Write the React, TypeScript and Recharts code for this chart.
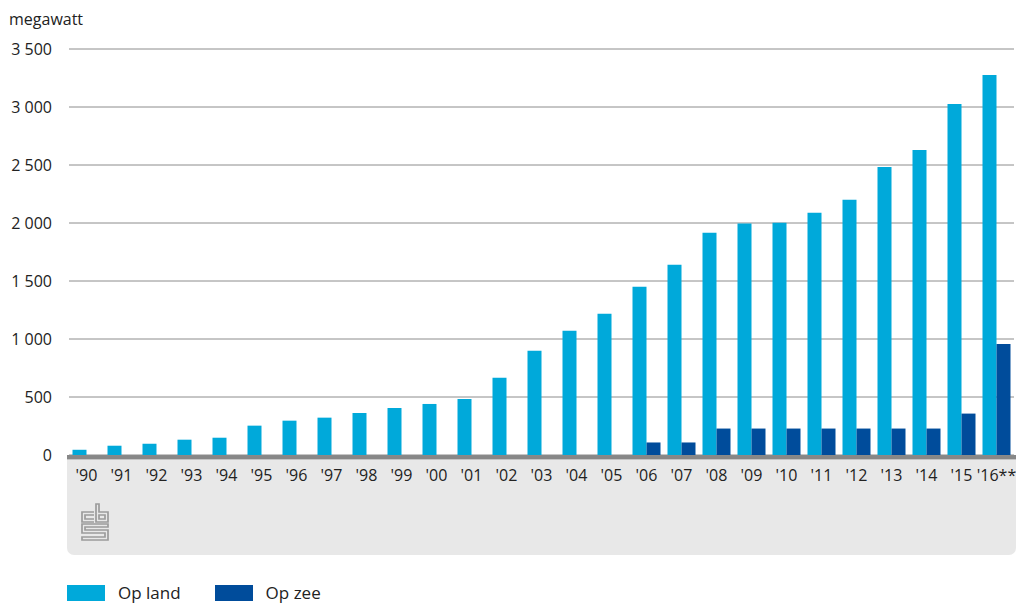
import React from "react";
import { BarChart, Bar, XAxis, YAxis, CartesianGrid } from "recharts";

const years = ["'90","'91","'92","'93","'94","'95","'96","'97","'98","'99","'00","'01","'02","'03","'04","'05","'06","'07","'08","'09","'10","'11","'12","'13","'14","'15","'16**"];
const opLand = [45, 80, 97, 132, 149, 253, 296, 322, 362, 405, 440, 483, 666, 899, 1071, 1218, 1451, 1640, 1916, 1996, 2002, 2088, 2200, 2483, 2630, 3026, 3276];
const opZee = [0, 0, 0, 0, 0, 0, 0, 0, 0, 0, 0, 0, 0, 0, 0, 0, 108, 108, 228, 228, 228, 228, 228, 228, 228, 357, 957];
const yTicks = [0, 500, 1000, 1500, 2000, 2500, 3000, 3500];
const series = [
  { key: "land", name: "Op land", color: "#00a9da" },
  { key: "zee", name: "Op zee", color: "#004c9b" },
];
const unitLabel = "megawatt";

const data = years.map((y, i) => ({ year: y, land: opLand[i], zee: opZee[i] }));

const FONT = "'Open Sans', sans-serif";
const fmt = (v: number) => String(v).replace(/\B(?=(\d{3})+(?!\d))/g, " ");

function Logo() {
  return (
    <svg width={28} height={38} viewBox="0 0 28 38" style={{ position: "absolute", left: 81, top: 503 }}>
      <g fill="none" stroke="#9b9b9b" strokeWidth={1.7}>
        <path d="M13 9 H1 V19 H13" />
        <path d="M13 12 H4 V16 H13" />
        <path d="M15 1 V19 H27 V9 H18 V1 Z" />
        <path d="M18 12 H24 V16 H18 Z" />
        <path d="M27 21 H1 V30 H24 V34 H1 V37 H27 V27 H4 V24 H27 Z" />
      </g>
    </svg>
  );
}

export default function App() {
  return (
    <div style={{ position: "absolute", left: 0, top: 0, width: 1016, height: 604, fontFamily: FONT, background: "#fff" }}>
      <div style={{ position: "absolute", left: 67, top: 455, width: 949, height: 100, background: "#e8e8e8", borderRadius: "0 0 7px 7px" }} />
      <div style={{ position: "absolute", left: 67, top: 455, width: 949, height: 3.5, background: "#878787" }} />
      <div style={{ position: "absolute", left: 67, top: 458.5, width: 949, height: 1.5, background: "#c4c4c4" }} />
      <Logo />
      <div style={{ position: "absolute", left: 9, top: 9, fontSize: 16, color: "#222", lineHeight: "20px" }}>{unitLabel}</div>
      <div style={{ position: "absolute", left: 0, top: 0 }}>
        <BarChart
          width={1016}
          height={604}
          data={data}
          margin={{ top: 49, right: 2, left: 9, bottom: 119 }}
          barCategoryGap="10%"
          barGap={0}
        >
          <CartesianGrid vertical={false} stroke="#8c8c8c" strokeWidth={1} />
          <XAxis
            dataKey="year"
            height={30}
            axisLine={false}
            tickLine={false}
            tickSize={0}
            tickMargin={15}
            interval={0}
            tick={{ fontSize: 16, fill: "#222", fontFamily: FONT }}
          />
          <YAxis
            width={60}
            domain={[0, 3500]}
            ticks={yTicks}
            axisLine={false}
            tickLine={false}
            tickSize={0}
            tickMargin={17}
            tickFormatter={fmt}
            tick={{ fontSize: 16, fill: "#222", fontFamily: FONT }}
          />
          {series.map((s) => (
            <Bar key={s.key} dataKey={s.key} name={s.name} fill={s.color} isAnimationActive={false} />
          ))}
        </BarChart>
      </div>
      <div style={{ position: "absolute", left: 67, top: 582, display: "flex", alignItems: "center" }}>
        {series.map((s, i) => (
          <div key={s.key} style={{ display: "flex", alignItems: "center", marginRight: i === 0 ? 34 : 0 }}>
            <div style={{ width: 38, height: 16, background: s.color, marginRight: 13 }} />
            <span style={{ fontSize: 17, color: "#222", lineHeight: "22px" }}>{s.name}</span>
          </div>
        ))}
      </div>
    </div>
  );
}
